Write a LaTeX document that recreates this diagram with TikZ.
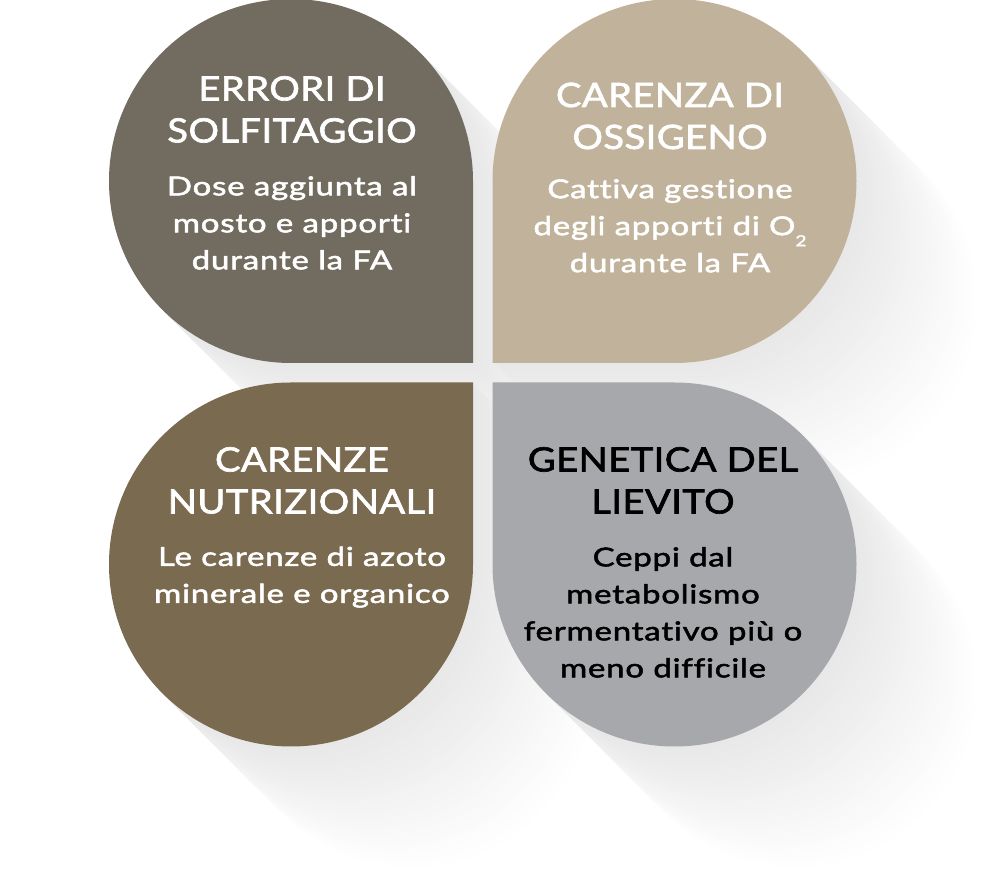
\documentclass[tikz,border=0pt]{standalone}
\usepackage{fontspec}
\setmainfont{Lato}
\newfontfamily\headfont{Lato}[FakeBold=2,FakeStretch=1.14,LetterSpace=1.2,Ligatures=NoCommon]
\newfontfamily\txtfont{Lato}[FakeBold=2,FakeStretch=1.27,LetterSpace=3,Ligatures=NoCommon]
\definecolor{solfcol}{HTML}{726B5F}
\definecolor{ossicol}{HTML}{C1B39B}
\definecolor{nutrcol}{HTML}{7A6A4F}
\definecolor{genecol}{HTML}{A7A8AC}
\newcommand{\petal}[4]{\fill[#4] (#1,#2) ++(#3:182) arc[start angle=#3, delta angle=270, radius=182] -- ++(#3:182) -- cycle;}
\newcommand{\subtwo}{\raisebox{-11pt}{\fontsize{15}{15}\selectfont 2}}

\begin{document}
\begin{tikzpicture}[x=1pt,y=1pt,
    head/.style={anchor=north,inner sep=0,align=center,font=\headfont\fontsize{33.5}{42}\selectfont},
    body/.style={anchor=north,inner sep=0,align=center,font=\txtfont\fontsize{26}{37}\selectfont}]
    \useasboundingbox[fill=white](0,0) rectangle (986,875);

    \foreach \k in {40,39,...,1}{
        \pgfmathsetmacro\shd{9*(41-\k)/40}
        \begin{scope}[shift={(3*\k,-3*\k)}]
            \petal{291}{694}{0}{black!\shd}
            \petal{674.5}{694}{270}{black!\shd}
            \petal{291}{310.5}{90}{black!\shd}
            \petal{674.5}{310.5}{180}{black!\shd}
        \end{scope}
    }

    \petal{291}{694}{0}{solfcol}
    \petal{674.5}{694}{270}{ossicol}
    \petal{291}{310.5}{90}{nutrcol}
    \petal{674.5}{310.5}{180}{genecol}

    \node[head,white] (solf-head) at (292,799) {ERRORI DI\\SOLFITAGGIO};
    \node[body,white] (solf-text) at (292,699) {Dose aggiunta al\\mosto e apporti\\durante la FA};

    \node[head,white] (ossi-head) at (670,792.5) {CARENZA DI\\OSSIGENO};
    \node[body,white] (ossi-text) at (670,696) {Cattiva gestione\\degli apporti di O\subtwo\\durante la FA};

    \node[head,white] (nutr-head) at (302,428) {CARENZE\\NUTRIZIONALI};
    \node[body,white] (nutr-text) at (302,328.5) {Le carenze di azoto\\minerale e organico};

    \node[head,black] (gene-head) at (663,428) {GENETICA DEL\\LIEVITO};
    \node[body,black] (gene-text) at (663,328) {Ceppi dal\\metabolismo\\fermentativo più o\\meno difficile};
\end{tikzpicture}
\end{document}
